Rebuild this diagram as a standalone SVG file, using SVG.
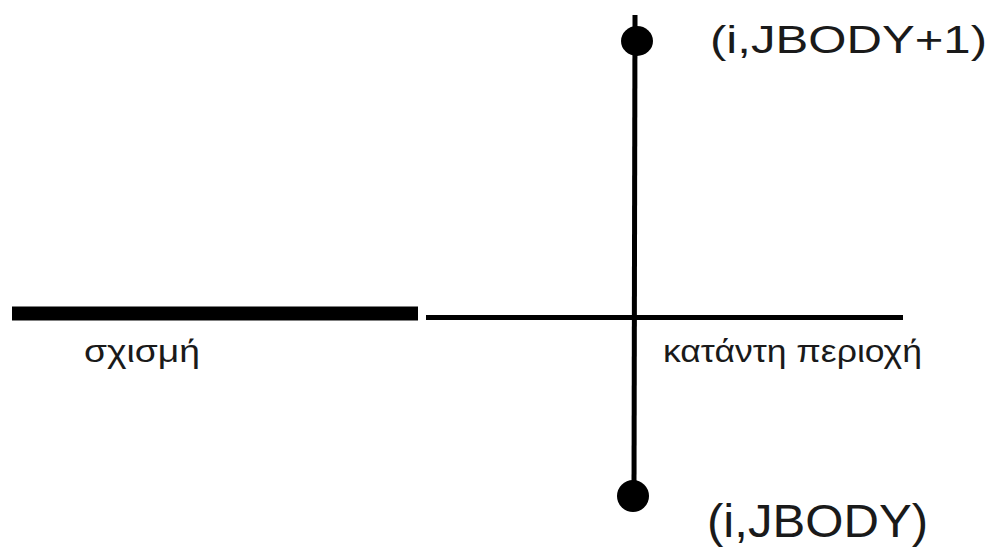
<svg xmlns="http://www.w3.org/2000/svg" width="991" height="548" viewBox="0 0 991 548">
<style>
.lbl{font-family:"Liberation Sans",Arial,sans-serif;fill:#1a1a1a}
.ln{stroke:#000;fill:none}
.dot{fill:#000}
</style>
<rect width="991" height="548" fill="#fff"/>
<g id="connectors">
<line class="ln" x1="12" y1="313.5" x2="418" y2="313.5" stroke-width="14"/>
<line class="ln" x1="426" y1="317.5" x2="903" y2="317.5" stroke-width="5"/>
<line class="ln" x1="635" y1="15" x2="634" y2="490" stroke-width="5"/>
</g>
<g id="node-top">
<ellipse class="dot" cx="637" cy="41" rx="16" ry="15"/>
<text class="lbl" x="710" y="53" font-size="39" textLength="277" lengthAdjust="spacingAndGlyphs">(i,JBODY+1)</text>
</g>
<g id="node-bottom">
<ellipse class="dot" cx="633" cy="496" rx="16" ry="16"/>
<text class="lbl" x="707" y="537" font-size="46" textLength="221" lengthAdjust="spacingAndGlyphs">(i,JBODY)</text>
</g>
<g id="label-crack">
<text class="lbl" x="84" y="362" font-size="32" textLength="116" lengthAdjust="spacingAndGlyphs">σχισμή</text>
</g>
<g id="label-downstream">
<text class="lbl" x="663" y="362" font-size="31" textLength="259" lengthAdjust="spacingAndGlyphs">κατάντη περιοχή</text>
</g>
</svg>
